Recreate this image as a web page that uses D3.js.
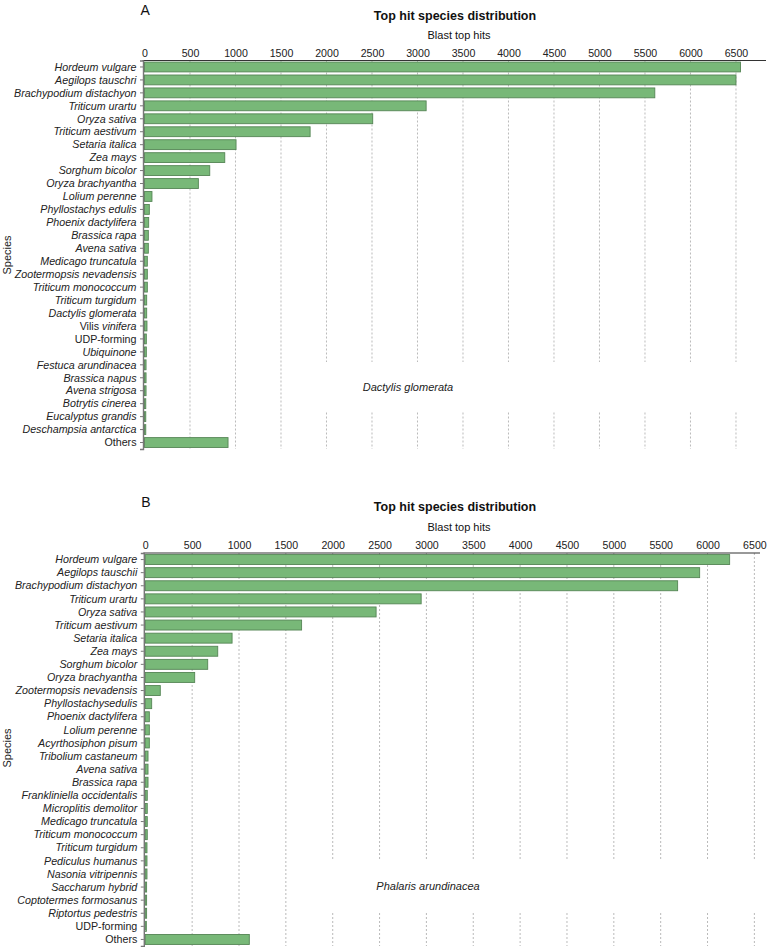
<!DOCTYPE html>
<html><head><meta charset="utf-8">
<script src="https://cdn.jsdelivr.net/npm/d3@7"></script>
<style>body{margin:0;background:#fff}svg{display:block;font-family:"Liberation Sans",Arial,sans-serif}</style>
</head><body>
<svg id="chart" width="771" height="947"></svg>
<script>
const speciesA = ["Hordeum vulgare","Aegilops tauschri","Brachypodium distachyon","Triticum urartu","Oryza sativa","Triticum aestivum","Setaria italica","Zea mays","Sorghum bicolor","Oryza brachyantha","Lolium perenne","Phyllostachys edulis","Phoenix dactylifera","Brassica rapa","Avena sativa","Medicago truncatula","Zootermopsis nevadensis","Triticum monococcum","Triticum turgidum","Dactylis glomerata","Vilis vinifera","UDP-forming","Ubiquinone","Festuca arundinacea","Brassica napus","Avena strigosa","Botrytis cinerea","Eucalyptus grandis","Deschampsia antarctica","Others"];
const valuesA = [6550,6500,5608,3095,2508,1820,1006,882,717,592,82,53,46,42,42,31,31,31,24,24,27,20,20,17,17,17,14,14,14,918];

const speciesB = ["Hordeum vulgare","Aegilops tauschii","Brachypodium distachyon","Triticum urartu","Oryza sativa","Triticum aestivum","Setaria italica","Zea mays","Sorghum bicolor","Oryza brachyantha","Zootermopsis nevadensis","Phyllostachysedulis","Phoenix dactylifera","Lolium perenne","Acyrthosiphon pisum","Tribolium castaneum","Avena sativa","Brassica rapa","Frankliniella occidentalis","Microplitis demolitor","Medicago truncatula","Triticum monococcum","Triticum turgidum","Pediculus humanus","Nasonia vitripennis","Saccharum hybrid","Coptotermes formosanus","Riptortus pedestris","UDP-forming","Others"];
const valuesB = [6236,5916,5681,2944,2463,1668,926,773,666,527,160,68,43,43,43,29,29,29,21,21,21,21,18,18,18,14,14,14,11,1110];

const ticks = [0,500,1000,1500,2000,2500,3000,3500,4000,4500,5000,5500,6000,6500];
const uprightLabels = ["UDP-forming","Others"];
const uprightWords = ["Vilis"];
const titleText = "Top hit species distribution";
const xTitle = "Blast top hits";
const yTitle = "Species";

const svg = d3.select("#chart");

function labelParts(s){
  if (uprightLabels.includes(s)) return [[s,false]];
  const w = s.split(" ");
  if (uprightWords.includes(w[0])) return [[w[0]+" ",false],[w.slice(1).join(" "),true]];
  return [[s,true]];
}

function panel(cfg){
  const g = svg.append("g");
  const x = d3.scaleLinear().domain([0,cfg.xmax]).range([cfg.x0,cfg.x1]);
  const y = d3.scaleBand().domain(cfg.species).range([cfg.yTop,cfg.yBot]).paddingInner(0.24).paddingOuter(0.12);

  g.append("text").attr("x",cfg.x0-4).attr("y",cfg.letterY).attr("font-size",14).attr("fill","#111").text(cfg.letter);
  g.append("text").attr("x",455).attr("y",cfg.titleY).attr("text-anchor","middle").attr("font-size",12.5).attr("font-weight","bold").attr("fill","#111").text(titleText);
  g.append("text").attr("x",459).attr("y",cfg.xTitleY).attr("text-anchor","middle").attr("font-size",11).attr("fill","#111").text(xTitle);

  g.append("g").selectAll("line").data(ticks.filter(t=>t>0)).join("line")
    .attr("x1",d=>x(d)).attr("x2",d=>x(d)).attr("y1",cfg.yTop).attr("y2",cfg.yBot)
    .attr("stroke","#a8a8a8").attr("stroke-width",0.8).attr("stroke-dasharray","2,2");

  const ax = d3.axisTop(x).tickValues(ticks).tickSize(0).tickPadding(4).tickFormat(d3.format("d"));
  const axg = g.append("g").attr("transform",`translate(0,${cfg.yTop})`).call(ax);
  axg.select(".domain").remove();
  axg.append("line").attr("x1",cfg.x0-2).attr("x2",cfg.axisEnd).attr("y1",0).attr("y2",0).attr("stroke","#333").attr("stroke-width",1);
  axg.selectAll("text").attr("font-size",10.6).attr("fill","#222").attr("font-family","Liberation Sans, Arial, sans-serif");

  g.append("g").selectAll("rect").data(cfg.values).join("rect")
    .attr("x",x(0)).attr("y",(d,i)=>y(cfg.species[i]))
    .attr("width",d=>x(d)-x(0)).attr("height",y.bandwidth())
    .attr("fill","#78b878").attr("stroke","#558555").attr("stroke-width",0.9);

  const ay = d3.axisLeft(y).tickSize(3).tickPadding(3).tickFormat("");
  const ayg = g.append("g").attr("transform",`translate(${x(0)-1.5},0)`).call(ay);
  ayg.select(".domain").attr("stroke","#777").attr("stroke-width",1.4);
  ayg.selectAll(".tick line").attr("stroke","#777");
  const lab = g.append("g").selectAll("text").data(cfg.species).join("text")
    .attr("x",x(0)-8).attr("y",d=>y(d)+y.bandwidth()/2).attr("dy","0.35em")
    .attr("text-anchor","end").attr("font-size",10.7).attr("fill","#222");
  lab.each(function(d){
    const t = d3.select(this);
    labelParts(d).forEach(p=>t.append("tspan").attr("font-style",p[1]?"italic":"normal").text(p[0]));
  });

  g.append("text").attr("transform",`translate(11,${cfg.yTitleY}) rotate(-90)`).attr("text-anchor","middle").attr("font-size",11).attr("fill","#222").text(yTitle);

  g.append("rect").attr("x",cfg.boxX).attr("y",cfg.noteY-25).attr("width",cfg.axisEnd-cfg.boxX).attr("height",50).attr("fill","#fff");
  g.append("text").attr("x",cfg.noteX).attr("y",cfg.noteY).attr("dy","0.35em").attr("text-anchor","middle").attr("font-size",11).attr("font-style","italic").attr("fill","#222").text(cfg.note);
}

panel({letter:"A",species:speciesA,values:valuesA,xmax:6830,x0:144.5,x1:766,axisEnd:766,
  yTop:60.5,yBot:449,letterY:15,titleY:20,xTitleY:39,yTitleY:255,
  note:"Dactylis glomerata",noteX:408,noteY:387,boxX:295});
panel({letter:"B",species:speciesB,values:valuesB,xmax:6560,x0:145.3,x1:760,axisEnd:760,
  yTop:553,yBot:946,letterY:507,titleY:511,xTitleY:531,yTitleY:748,
  note:"Phalaris arundinacea",noteX:428,noteY:886,boxX:300});
</script>
</body></html>
